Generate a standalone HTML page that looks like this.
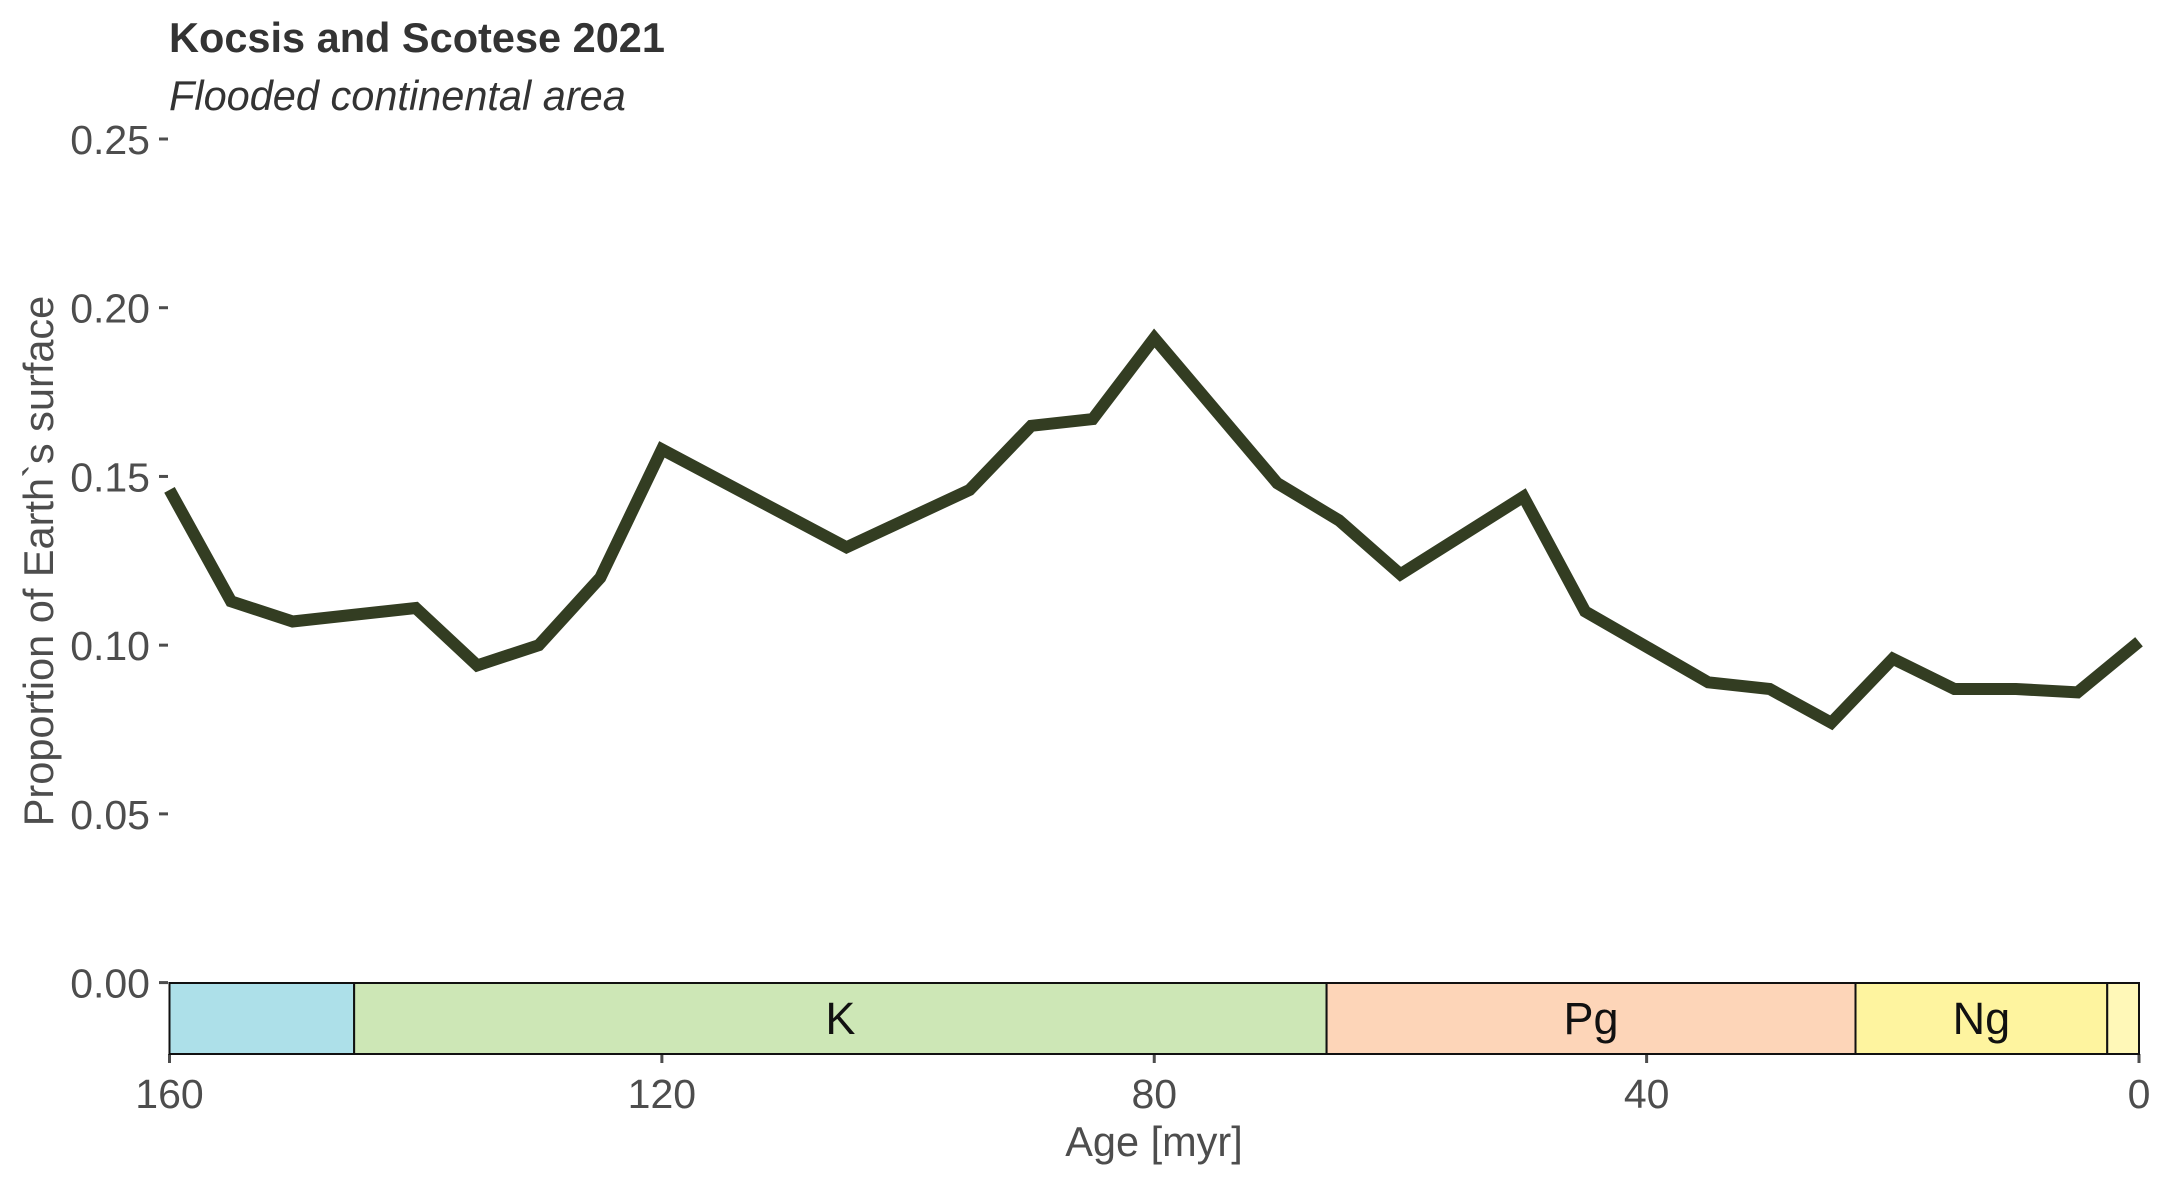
<!DOCTYPE html>
<html><head><meta charset="utf-8"><style>
html,body{margin:0;padding:0;background:#fff;}
svg{display:block;font-family:"Liberation Sans",sans-serif;}
</style></head><body>
<svg id="chart" width="2161" height="1181" viewBox="0 0 2161 1181">
<text x="169" y="52" font-size="41.5" font-weight="bold" fill="#333">Kocsis and Scotese 2021</text>
<text x="169" y="110" font-size="41.5" font-style="italic" fill="#333">Flooded continental area</text>
<text transform="translate(53,561) rotate(-90)" text-anchor="middle" font-size="41.5" fill="#4d4d4d">Proportion of Earth`s surface</text>
<text x="1154" y="1156" text-anchor="middle" font-size="41.5" fill="#4d4d4d">Age [myr]</text>
<g id="yaxis"></g>
<g id="xaxis"></g>
<g id="periods"></g>
<path id="line" fill="none" stroke="#333d22" stroke-width="12" stroke-linejoin="miter"/>
</svg>
<script>
const ages = [160,155,150,140,135,130,125,120,105,95,90,85,80,70,65,60,50,45,35,30,25,20,15,10,5,0];
const values = [0.146,0.113,0.107,0.111,0.094,0.100,0.120,0.158,0.129,0.146,0.165,0.167,0.191,0.148,0.137,0.121,0.144,0.110,0.089,0.087,0.077,0.096,0.087,0.087,0.086,0.101];
const yTicks = [0,0.05,0.10,0.15,0.20,0.25];
const yTickLabels = ["0.00","0.05","0.10","0.15","0.20","0.25"];
const xTicks = [160,120,80,40,0];
const periodNames = ["","K","Pg","Ng",""];
const periodStart = [160,145,66,23.03,2.58];
const periodEnd = [145,66,23.03,2.58,0];
const periodColors = ["#ade0e9","#cde7b6","#fdd5b8","#fef49f","#fff8b8"];
const NS="http://www.w3.org/2000/svg";
const X = a => 169.5 + (160 - a) * (2139 - 169.5) / 160;
const Y = v => 982.6 - v * (982.6 - 139) / 0.25;
function mk(t,attrs,parent){const e=document.createElementNS(NS,t);for(const k in attrs)e.setAttribute(k,attrs[k]);parent.appendChild(e);return e;}
const ya=document.getElementById('yaxis');
yTicks.forEach((v,i)=>{
  const t=mk('line',{x1:159,x2:168,y1:Y(v),y2:Y(v),stroke:'#4d4d4d','stroke-width':3},ya);
  
  
  const l=mk('text',{x:150,y:Y(v)+15,'text-anchor':'end','font-size':41,fill:'#4d4d4d'},ya);
  l.textContent=yTickLabels[i];
  
  
});
const xa=document.getElementById('xaxis');
xTicks.forEach(a=>{
  const t=mk('line',{x1:X(a),x2:X(a),y1:1054,y2:1063,stroke:'#4d4d4d','stroke-width':3},xa);
  
  
  const l=mk('text',{x:X(a),y:1108,'text-anchor':'middle','font-size':41,fill:'#4d4d4d'},xa);
  l.textContent=a;
  
  
});
const pg=document.getElementById('periods');
periodNames.forEach((n,i)=>{
  const r=mk('rect',{x:X(periodStart[i]),y:983,width:X(periodEnd[i])-X(periodStart[i]),height:71,fill:periodColors[i],stroke:'#111','stroke-width':2},pg);
  
  
  if(n){
    const l=mk('text',{x:(X(periodStart[i])+X(periodEnd[i]))/2,y:1034,'text-anchor':'middle','font-size':45,fill:'#111'},pg);
    l.textContent=n;
    
    
  }
});
document.getElementById('line').setAttribute('d',ages.map((a,i)=>(i?'L':'M')+X(a).toFixed(1)+','+Y(values[i]).toFixed(1)).join(' '));
</script>
</body></html>
